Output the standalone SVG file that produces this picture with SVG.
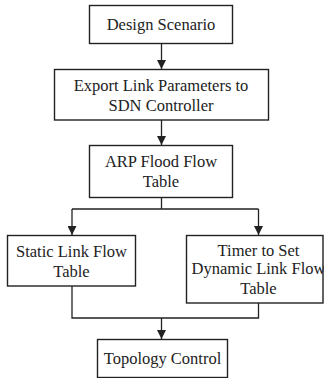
<svg xmlns="http://www.w3.org/2000/svg" width="324" height="378" viewBox="0 0 324 378">
<style>
.box{fill:#fff;stroke:#222;stroke-width:1.4}
.t{font-family:'Liberation Serif','DejaVu Serif',serif;font-size:16.5px;fill:#222;text-anchor:middle}
.c{fill:none;stroke:#222;stroke-width:1.3}
</style>
<defs>
<marker id="ah" viewBox="0 0 10 10" refX="10" refY="5" markerWidth="9" markerHeight="9" markerUnits="userSpaceOnUse" orient="auto">
<path d="M0,0 L10,5 L0,10 z" fill="#222"/>
</marker>
</defs>
<rect width="324" height="378" fill="#fff"/>
<g id="connectors">
<path class="c" d="M161.5,43.5 V69" marker-end="url(#ah)"/>
<path class="c" d="M161.5,120 V145" marker-end="url(#ah)"/>
<path class="c" d="M161.5,197.5 V209 M72,209 H258.5"/>
<path class="c" d="M72,209 V235" marker-end="url(#ah)"/>
<path class="c" d="M258.5,209 V235" marker-end="url(#ah)"/>
<path class="c" d="M72,286 V318 H258.5 V303"/>
<path class="c" d="M161.5,318 V339" marker-end="url(#ah)"/>
</g>
<g id="n1">
<rect class="box" x="89.5" y="5.5" width="143" height="38"/>
<text class="t" x="161" y="30">Design Scenario</text>
</g>
<g id="n2">
<rect class="box" x="54.5" y="69.5" width="214" height="50.5"/>
<text class="t" x="161" y="91">Export Link Parameters to</text>
<text class="t" x="161" y="110.5">SDN Controller</text>
</g>
<g id="n3">
<rect class="box" x="89.5" y="145.5" width="143" height="52"/>
<text class="t" x="161" y="167">ARP Flood Flow</text>
<text class="t" x="161" y="186.5">Table</text>
</g>
<g id="n4">
<rect class="box" x="7.5" y="235.5" width="128" height="50.5"/>
<text class="t" x="71.5" y="257">Static Link Flow</text>
<text class="t" x="71.5" y="276.5">Table</text>
</g>
<g id="n5">
<rect class="box" x="186.5" y="235.5" width="136.5" height="67.5"/>
<text class="t" x="258.5" y="255.5">Timer to Set</text>
<text class="t" x="258.5" y="274">Dynamic Link Flow</text>
<text class="t" x="258.5" y="293.5">Table</text>
</g>
<g id="n6">
<rect class="box" x="97.5" y="339.5" width="130" height="38"/>
<text class="t" x="162.5" y="364">Topology Control</text>
</g>
</svg>
